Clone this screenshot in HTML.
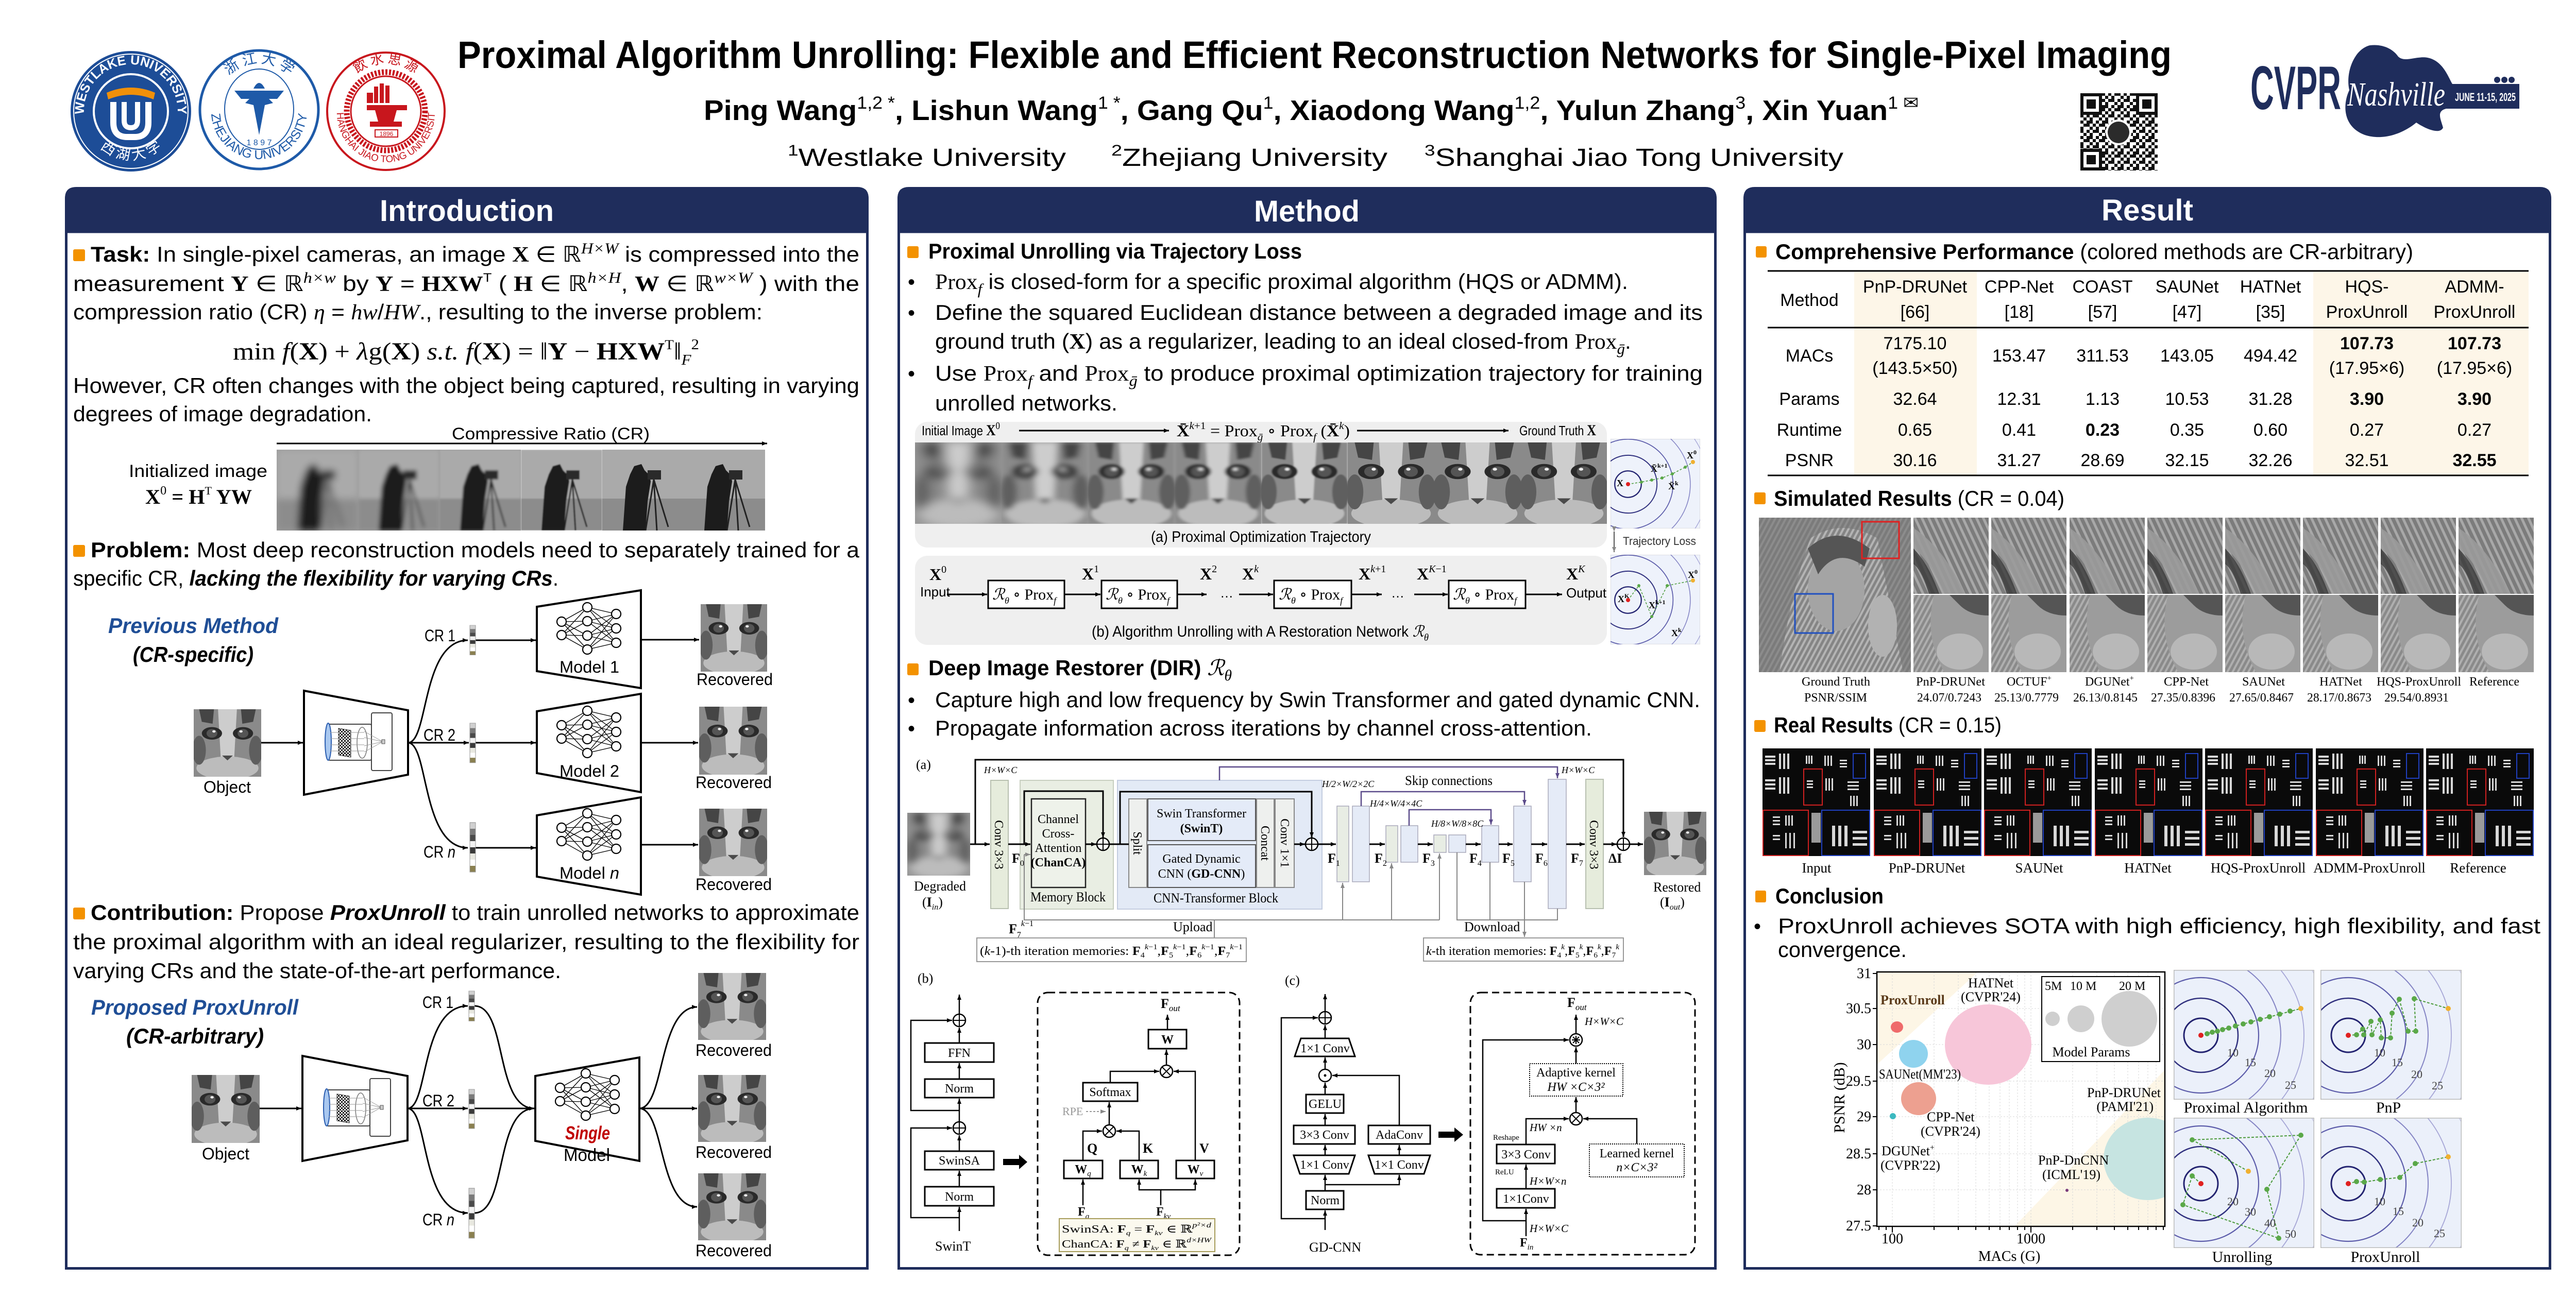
<!DOCTYPE html>
<html><head><meta charset="utf-8">
<style>
html,body{margin:0;padding:0;background:#fff;}
body{width:5074px;height:2550px;overflow:hidden;}
svg text{font-family:"Liberation Sans","DejaVu Sans",sans-serif;}
svg .s, svg .s text, svg .s tspan{font-family:"Liberation Serif","DejaVu Serif",serif;}
svg .cjk{font-family:"Noto Sans CJK SC","WenQuanYi Zen Hei",sans-serif;}
</style></head><body>
<svg width="5074" height="2550" viewBox="0 0 5074 2550" xmlns="http://www.w3.org/2000/svg">
<defs>
<marker id="a" viewBox="0 0 10 10" refX="10" refY="5" markerWidth="16" markerHeight="14" markerUnits="userSpaceOnUse" orient="auto"><path d="M0,1 L10,5 L0,9 z" fill="#000"/></marker>
<marker id="a2" viewBox="0 0 10 10" refX="10" refY="5" markerWidth="11" markerHeight="10" markerUnits="userSpaceOnUse" orient="auto"><path d="M0,1 L10,5 L0,9 z" fill="#000"/></marker>
<marker id="ap" viewBox="0 0 10 10" refX="10" refY="5" markerWidth="11" markerHeight="10" markerUnits="userSpaceOnUse" orient="auto"><path d="M0,1 L10,5 L0,9 z" fill="#5b4b8a"/></marker>
<marker id="ag" viewBox="0 0 10 10" refX="10" refY="5" markerWidth="11" markerHeight="10" markerUnits="userSpaceOnUse" orient="auto"><path d="M0,1 L10,5 L0,9 z" fill="#888"/></marker>
<pattern id="chk" width="6" height="6" patternUnits="userSpaceOnUse"><rect width="6" height="6" fill="#fff"/><rect width="3" height="3" fill="#111"/><rect x="3" y="3" width="3" height="3" fill="#111"/></pattern>
<pattern id="qrp" width="30" height="30" patternUnits="userSpaceOnUse"><rect width="30" height="30" fill="#fff"/><path d="M0,0h6v6h-6zM12,0h6v6h-6zM18,6h6v6h-6zM6,6h6v6h-6zM0,12h6v6h-6zM12,12h12v6h-12zM24,18h6v6h-6zM6,18h6v6h-6zM0,24h12v6h-12zM18,24h6v6h-6zM24,0h6v6h-6z" fill="#111"/></pattern>
<pattern id="strp" width="9" height="9" patternUnits="userSpaceOnUse" patternTransform="rotate(28)"><rect width="9" height="9" fill="#858585"/><rect width="4" height="9" fill="#b4b4b4"/></pattern>
<pattern id="strp2" width="12" height="12" patternUnits="userSpaceOnUse" patternTransform="rotate(-25)"><rect width="12" height="12" fill="#7c7c7c"/><rect width="5" height="12" fill="#a8a8a8"/></pattern>
<filter id="b8" x="0" y="0" width="1" height="1"><feGaussianBlur stdDeviation="7"/></filter>
<filter id="b4" x="0" y="0" width="1" height="1"><feGaussianBlur stdDeviation="4"/></filter>
<filter id="b2" x="0" y="0" width="1" height="1"><feGaussianBlur stdDeviation="2"/></filter>
<filter id="b1" x="0" y="0" width="1" height="1"><feGaussianBlur stdDeviation="1"/></filter>

<g id="cat">
<rect width="100" height="140" fill="#8a8a8a"/>
<path d="M36,0 L64,0 L60,100 L40,100 Z" fill="#cdcdcd"/>
<ellipse cx="50" cy="122" rx="46" ry="24" fill="#bcbcbc"/>
<path d="M8,0 L30,0 L28,30 L12,26Z" fill="#454545"/>
<path d="M70,0 L92,0 L88,26 L72,30Z" fill="#454545"/>
<ellipse cx="8" cy="85" rx="10" ry="30" fill="#5e5e5e"/>
<ellipse cx="92" cy="85" rx="10" ry="30" fill="#5e5e5e"/>
<ellipse cx="27" cy="50" rx="15" ry="13" fill="#2a2a2a"/><ellipse cx="27" cy="50" rx="8" ry="9" fill="#555"/><circle cx="30" cy="46" r="2.5" fill="#eee"/>
<ellipse cx="73" cy="50" rx="15" ry="13" fill="#2a2a2a"/><ellipse cx="73" cy="50" rx="8" ry="9" fill="#555"/><circle cx="70" cy="46" r="2.5" fill="#eee"/>
<path d="M42,96 L58,96 L50,106Z" fill="#4a4a4a"/>
</g>
<g id="cman">
<rect width="158" height="157" fill="#aaaaaa"/>
<rect y="95" width="158" height="62" fill="#8c8c8c"/>
<path d="M40,157 L46,72 L54,48 L62,32 L76,28 L82,40 L92,50 L94,62 L88,100 L84,157 Z" fill="#1c1c1c"/>
<rect x="88" y="40" width="26" height="18" fill="#2a2a2a"/>
<path d="M100,58 L84,157 M100,58 L106,157 M100,58 L128,150" stroke="#222" stroke-width="3"/>
</g>
<g id="nn">
<path d="M-50,-13 L0,-41 M-50,-13 L0,-14 M-50,-13 L0,14 M-50,-13 L0,41 M-50,13 L0,-41 M-50,13 L0,-14 M-50,13 L0,14 M-50,13 L0,41 M0,-41 L56,-28 M0,-41 L56,0 M0,-41 L56,28 M0,-14 L56,-28 M0,-14 L56,0 M0,-14 L56,28 M0,14 L56,-28 M0,14 L56,0 M0,14 L56,28 M0,41 L56,-28 M0,41 L56,0 M0,41 L56,28" stroke="#000" stroke-width="1.3" fill="none"/>
<g fill="#fff" stroke="#000" stroke-width="2.2">
<circle cx="-50" cy="-13" r="9"/><circle cx="-50" cy="13" r="9"/>
<circle cx="0" cy="-41" r="9"/><circle cx="0" cy="-14" r="9"/><circle cx="0" cy="14" r="9"/><circle cx="0" cy="41" r="9"/>
<circle cx="56" cy="-28" r="9"/><circle cx="56" cy="0" r="9"/><circle cx="56" cy="28" r="9"/>
</g>
</g>
<g id="mb">
<rect x="0" y="0" width="11" height="10" fill="#d0d0d0"/><rect x="0" y="10" width="11" height="10" fill="#7a7a7a"/><rect x="0" y="20" width="11" height="10" fill="#4a4a4a"/><rect x="0" y="30" width="11" height="10" fill="#f2f2f2"/><rect x="0" y="40" width="11" height="10" fill="#3a3a3a"/><rect x="0" y="50" width="11" height="10" fill="#e8e8e0"/><rect x="0" y="60" width="11" height="10" fill="#fff"/><rect x="0" y="70" width="11" height="10" fill="#8a8050"/>
<rect x="0" y="0" width="11" height="80" fill="none" stroke="#999" stroke-width="1"/>
</g>
<g id="cam">
<rect x="-40" y="-34" width="84" height="70" fill="#fff" stroke="#444" stroke-width="2" rx="3"/>
<rect x="44" y="-56" width="40" height="112" fill="#fff" stroke="#444" stroke-width="2" rx="3"/>
<ellipse cx="-40" cy="0" rx="6" ry="36" fill="#a9c8f0" stroke="#2a5db0" stroke-width="2"/>
<path d="M-20,-26 L4,-22 L4,30 L-20,26 Z" fill="url(#chk)" stroke="#333" stroke-width="1"/>
<ellipse cx="26" cy="2" rx="10" ry="30" fill="none" stroke="#777" stroke-width="1.5"/>
<path d="M-36,-18 H30 M-36,-6 H30 M-36,6 H30 M-36,18 H30 M30,-20 L66,0 M30,20 L66,0 M30,-8 L66,0 M30,8 L66,0" stroke="#999" stroke-width="1"/>
<rect x="64" y="-4" width="6" height="8" fill="#ccc" stroke="#555"/>
</g>
<g id="ctr" fill="none">
<circle r="250" stroke="#c4c4e4" stroke-width="1.5"/>
<circle r="200" stroke="#a6a6d6" stroke-width="1.8"/>
<circle r="155" stroke="#8484c4" stroke-width="2"/>
<circle r="112" stroke="#5c5caa" stroke-width="2.2"/>
<circle r="72" stroke="#30307e" stroke-width="2.5"/>
<circle r="33" stroke="#232370" stroke-width="3"/>
</g>
<g id="usaf">
<rect width="209" height="209" fill="#0a0a0a"/>
<g fill="#d8d8d8">
<rect x="5" y="14" width="20" height="4"/><rect x="5" y="21" width="20" height="4"/><rect x="5" y="28" width="20" height="4"/>
<rect x="32" y="10" width="4" height="30"/><rect x="40" y="10" width="4" height="30"/><rect x="48" y="10" width="4" height="30"/>
<rect x="84" y="14" width="3" height="16"/><rect x="89" y="14" width="3" height="16"/><rect x="94" y="14" width="3" height="16"/>
<rect x="120" y="14" width="3" height="20"/><rect x="126" y="14" width="3" height="20"/><rect x="132" y="14" width="3" height="20"/>
<rect x="150" y="22" width="14" height="3"/><rect x="150" y="28" width="14" height="3"/><rect x="150" y="34" width="14" height="3"/>
<rect x="5" y="60" width="20" height="4"/><rect x="5" y="68" width="20" height="4"/><rect x="5" y="76" width="20" height="4"/>
<rect x="32" y="56" width="4" height="32"/><rect x="40" y="56" width="4" height="32"/><rect x="48" y="56" width="4" height="32"/>
<rect x="86" y="62" width="12" height="3"/><rect x="86" y="68" width="12" height="3"/><rect x="86" y="74" width="12" height="3"/>
<rect x="122" y="58" width="3" height="24"/><rect x="128" y="58" width="3" height="24"/><rect x="134" y="58" width="3" height="24"/>
<rect x="165" y="64" width="22" height="3"/><rect x="165" y="71" width="22" height="3"/><rect x="165" y="78" width="22" height="3"/>
<rect x="170" y="92" width="3" height="20"/><rect x="176" y="92" width="3" height="20"/><rect x="182" y="92" width="3" height="20"/>
<rect x="20" y="132" width="14" height="3"/><rect x="20" y="139" width="14" height="3"/><rect x="20" y="146" width="14" height="3"/>
<rect x="44" y="130" width="3" height="20"/><rect x="50" y="130" width="3" height="20"/><rect x="56" y="130" width="3" height="20"/>
<rect x="20" y="168" width="14" height="3"/><rect x="20" y="175" width="14" height="3"/><rect x="44" y="164" width="3" height="30"/><rect x="52" y="164" width="3" height="30"/><rect x="60" y="164" width="3" height="30"/>
<rect x="135" y="150" width="6" height="40"/><rect x="147" y="150" width="6" height="40"/><rect x="159" y="150" width="6" height="40"/>
<rect x="175" y="160" width="28" height="5"/><rect x="175" y="172" width="28" height="5"/><rect x="175" y="184" width="28" height="5"/>
</g>
<rect x="95" y="125" width="18" height="58" fill="#9a9a9a"/>
<rect x="80" y="40" width="36" height="70" fill="none" stroke="#d02020" stroke-width="2"/>
<rect x="176" y="10" width="24" height="48" fill="none" stroke="#2040c0" stroke-width="2"/>
<rect x="1" y="120" width="88" height="88" fill="none" stroke="#d02020" stroke-width="2"/>
<rect x="115" y="120" width="93" height="88" fill="none" stroke="#2040c0" stroke-width="2"/>
</g>
<g id="crT">
<rect width="146" height="148" fill="url(#strp2)"/>
<path d="M0,20 Q60,60 100,148 L60,148 Q30,80 0,60Z" fill="#9a9a9a" opacity="0.9"/>
<path d="M0,60 Q30,90 50,148 L30,148 Q15,100 0,90Z" fill="#3a3a3a" opacity="0.8"/>
</g>
<g id="crB">
<rect width="146" height="150" fill="#9c9c9c"/>
<ellipse cx="90" cy="110" rx="45" ry="35" fill="#b8b8b8"/>
<path d="M70,0 L146,0 L146,40 Q110,40 90,20Z" fill="#555"/>
<path d="M0,0 L40,0 Q20,80 60,150 L0,150Z" fill="url(#strp)" opacity="0.8"/>
</g>
</defs>

<!-- ================= HEADER ================= -->
<text x="888" y="132" font-size="74" font-weight="bold" textLength="3327" lengthAdjust="spacingAndGlyphs">Proximal Algorithm Unrolling: Flexible and Efficient Reconstruction Networks for Single-Pixel Imaging</text>
<text x="1366" y="233" font-size="55" font-weight="bold" textLength="2358" lengthAdjust="spacingAndGlyphs">Ping Wang<tspan font-size="34" font-weight="normal" dy="-22">1,2 *</tspan><tspan dy="22">, Lishun Wang</tspan><tspan font-size="34" font-weight="normal" dy="-22">1 *</tspan><tspan dy="22">, Gang Qu</tspan><tspan font-size="34" font-weight="normal" dy="-22">1</tspan><tspan dy="22">, Xiaodong Wang</tspan><tspan font-size="34" font-weight="normal" dy="-22">1,2</tspan><tspan dy="22">, Yulun Zhang</tspan><tspan font-size="34" font-weight="normal" dy="-22">3</tspan><tspan dy="22">, Xin Yuan</tspan><tspan font-size="34" font-weight="normal" dy="-22">1 ✉</tspan></text>
<text x="1529" y="322" font-size="48" textLength="540" lengthAdjust="spacingAndGlyphs"><tspan font-size="30" dy="-20">1</tspan><tspan dy="20">Westlake University</tspan></text>
<text x="2157" y="322" font-size="48" textLength="536" lengthAdjust="spacingAndGlyphs"><tspan font-size="30" dy="-20">2</tspan><tspan dy="20">Zhejiang University</tspan></text>
<text x="2765" y="322" font-size="48" textLength="813" lengthAdjust="spacingAndGlyphs"><tspan font-size="30" dy="-20">3</tspan><tspan dy="20">Shanghai Jiao Tong University</tspan></text>

<!-- Westlake logo -->
<circle cx="254" cy="216" r="117" fill="#1d4d97"/>
<circle cx="254" cy="216" r="111" fill="none" stroke="#fff" stroke-width="2"/>
<circle cx="254" cy="216" r="72" fill="#1d4d97" stroke="#fff" stroke-width="4"/>
<path id="wlp" d="M163,216 A91,91 0 0,1 345,216" fill="none"/>
<text font-size="25" fill="#fff" font-weight="bold"><textPath href="#wlp" startOffset="50%" text-anchor="middle">WESTLAKE UNIVERSITY</textPath></text>
<path id="wlb" d="M166,222 A88,88 0 0,0 342,222" fill="none"/>
<text font-size="28" fill="#fff" class="cjk"><textPath href="#wlb" startOffset="50%" text-anchor="middle">西 湖 大 学</textPath></text>
<path d="M207,180 Q254,160 301,180 L298,193 Q254,175 210,193 Z" fill="#f0900a"/>
<path d="M220,198 V238 Q220,266 247,266 L261,266 Q288,266 288,238 V198" fill="none" stroke="#fff" stroke-width="12"/>
<path d="M241,198 V234 Q241,248 254,248 Q267,248 267,234 V198" fill="none" stroke="#fff" stroke-width="10"/>
<!-- Zhejiang logo -->
<circle cx="503" cy="213" r="115" fill="#fff" stroke="#1e5aa8" stroke-width="5"/>
<ellipse cx="503" cy="212" rx="67" ry="78" fill="none" stroke="#1e5aa8" stroke-width="2"/>
<path d="M455,176 L551,176 L538,192 L522,192 L530,200 L514,204 L503,262 L492,204 L476,200 L484,192 L468,192 Z" fill="#1e5aa8"/>
<path d="M492,172 Q503,150 514,172 Z" fill="#1e5aa8"/>
<path id="zjb" d="M410,216 A93,93 0 0,0 596,216" fill="none"/>
<text font-size="25" fill="#1e5aa8"><textPath href="#zjb" startOffset="50%" text-anchor="middle">ZHEJIANG UNIVERSITY</textPath></text>
<path id="zjt" d="M416,210 A87,87 0 0,1 590,210" fill="none"/>
<text font-size="28" fill="#1e5aa8" class="cjk"><textPath href="#zjt" startOffset="50%" text-anchor="middle">浙 江 大 学</textPath></text>
<text x="503" y="282" font-size="16" fill="#1e5aa8" text-anchor="middle">1 8 9 7</text>
<!-- SJTU logo -->
<circle cx="749" cy="216" r="114" fill="#fff" stroke="#c8161d" stroke-width="4"/>
<circle cx="749" cy="216" r="76" fill="none" stroke="#c8161d" stroke-width="11" stroke-dasharray="4 3"/>
<circle cx="749" cy="216" r="68" fill="none" stroke="#c8161d" stroke-width="3"/>
<g fill="#c8161d">
<rect x="726" y="168" width="8" height="32"/><rect x="737" y="162" width="8" height="38"/><rect x="748" y="166" width="8" height="34"/><rect x="712" y="180" width="12" height="20"/>
<path d="M712,204 H790 V214 H770 L764,236 H780 V246 H718 V236 H734 L728,214 H712 Z"/>
<rect x="728" y="252" width="44" height="14" fill="none" stroke="#c8161d" stroke-width="2"/>
</g>
<text x="750" y="264" font-size="12" fill="#c8161d" text-anchor="middle">1896</text>
<path id="sjb" d="M654,220 A95,95 0 0,0 844,220" fill="none"/>
<text font-size="19" fill="#c8161d"><textPath href="#sjb" startOffset="50%" text-anchor="middle">SHANGHAI JIAO TONG UNIVERSITY</textPath></text>
<path id="sjt" d="M660,212 A89,89 0 0,1 838,212" fill="none"/>
<text font-size="26" fill="#c8161d" class="cjk"><textPath href="#sjt" startOffset="50%" text-anchor="middle">飲 水 思 源</textPath></text>

<!-- QR -->
<rect x="4038" y="181" width="150" height="150" fill="url(#qrp)"/>
<g fill="#111"><rect x="4038" y="181" width="42" height="42"/><rect x="4146" y="181" width="42" height="42"/><rect x="4038" y="289" width="42" height="42"/></g>
<g fill="#fff"><rect x="4044" y="187" width="30" height="30"/><rect x="4152" y="187" width="30" height="30"/><rect x="4044" y="295" width="30" height="30"/></g>
<g fill="#111"><rect x="4050" y="193" width="18" height="18"/><rect x="4158" y="193" width="18" height="18"/><rect x="4050" y="301" width="18" height="18"/></g>
<circle cx="4112" cy="257" r="25" fill="#fff"/><circle cx="4112" cy="257" r="21" fill="#2b2b2b"/>

<!-- CVPR -->
<text x="4368" y="212" font-size="120" font-weight="bold" fill="#1f2d5c" textLength="176" lengthAdjust="spacingAndGlyphs">CVPR</text>
<path d="M4600,88 C4570,95 4552,140 4560,175 C4548,200 4545,245 4590,262 C4630,275 4670,255 4690,238 C4708,250 4735,262 4742,248 C4738,232 4728,216 4748,211 L4890,211 L4890,163 L4760,163 C4752,150 4742,118 4712,112 C4690,108 4668,122 4655,110 C4645,95 4625,85 4600,88 Z" fill="#1f2d5c"/>
<circle cx="4847" cy="155" r="6" fill="#1f2d5c"/><circle cx="4861" cy="155" r="6" fill="#1f2d5c"/><circle cx="4875" cy="155" r="6" fill="#1f2d5c"/>
<text x="4556" y="205" font-size="66" font-style="italic" fill="#fff" class="s" textLength="190" lengthAdjust="spacingAndGlyphs">Nashville</text>
<text x="4765" y="196" font-size="22" font-weight="bold" fill="#fff" textLength="118" lengthAdjust="spacingAndGlyphs">JUNE 11-15, 2025</text>

<!-- ================= PANELS ================= -->
<path d="M126,450 V385 Q126,363 148,363 H1664 Q1686,363 1686,385 V450 Z" fill="#1f2d5c"/>
<rect x="128.5" y="450" width="1555" height="2012.5" fill="none" stroke="#1f2d5c" stroke-width="5"/>
<text x="737" y="429" font-size="58" font-weight="bold" fill="#fff" textLength="338" lengthAdjust="spacingAndGlyphs">Introduction</text>

<path d="M1742,450 V385 Q1742,363 1764,363 H3310 Q3332,363 3332,385 V450 Z" fill="#1f2d5c"/>
<rect x="1744.5" y="450" width="1585" height="2012.5" fill="none" stroke="#1f2d5c" stroke-width="5"/>
<text x="2434" y="430" font-size="58" font-weight="bold" fill="#fff" textLength="205" lengthAdjust="spacingAndGlyphs">Method</text>

<path d="M3384,450 V385 Q3384,363 3406,363 H4930 Q4952,363 4952,385 V450 Z" fill="#1f2d5c"/>
<rect x="3386.5" y="450" width="1563" height="2012.5" fill="none" stroke="#1f2d5c" stroke-width="5"/>
<text x="4079" y="428" font-size="58" font-weight="bold" fill="#fff" textLength="178" lengthAdjust="spacingAndGlyphs">Result</text>

<!-- ================= INTRO ================= -->
<rect x="142" y="484" width="23" height="23" rx="3" fill="#f39200"/>
<text x="176" y="508" font-size="42" textLength="1492" lengthAdjust="spacingAndGlyphs"><tspan font-weight="bold">Task:</tspan> In single-pixel cameras, an image <tspan class="s" font-weight="bold">X</tspan> ∈ ℝ<tspan class="s" font-style="italic" font-size="30" dy="-16">H×W</tspan><tspan dy="16"> is compressed into the</tspan></text>
<text x="142" y="565" font-size="42" textLength="1526" lengthAdjust="spacingAndGlyphs">measurement  <tspan class="s" font-weight="bold">Y</tspan> ∈ ℝ<tspan class="s" font-style="italic" font-size="30" dy="-16">h×w</tspan><tspan dy="16">  by  </tspan><tspan class="s" font-weight="bold">Y</tspan> = <tspan class="s" font-weight="bold">HXW</tspan><tspan font-size="24" dy="-18">T</tspan><tspan dy="18">  ( </tspan><tspan class="s" font-weight="bold">H</tspan> ∈ ℝ<tspan class="s" font-style="italic" font-size="30" dy="-16">h×H</tspan><tspan dy="16">, </tspan><tspan class="s" font-weight="bold">W</tspan> ∈ ℝ<tspan class="s" font-style="italic" font-size="30" dy="-16">w×W</tspan><tspan dy="16"> )  with  the</tspan></text>
<text x="142" y="620" font-size="42" textLength="1338" lengthAdjust="spacingAndGlyphs">compression ratio (CR) <tspan class="s" font-style="italic">η</tspan> = <tspan class="s" font-style="italic">hw</tspan>/<tspan class="s" font-style="italic">HW</tspan>., resulting to the inverse problem:</text>
<text x="452" y="698" font-size="48" class="s" textLength="905" lengthAdjust="spacingAndGlyphs">min <tspan font-style="italic">f</tspan>(<tspan font-weight="bold">X</tspan>) + <tspan font-style="italic">λ</tspan>g(<tspan font-weight="bold">X</tspan>)   <tspan font-style="italic">s.t. f</tspan>(<tspan font-weight="bold">X</tspan>) = ‖<tspan font-weight="bold">Y</tspan> − <tspan font-weight="bold">HXW</tspan><tspan font-size="26" dy="-20">T</tspan><tspan dy="20">‖</tspan><tspan font-size="28" font-style="italic" dy="10">F</tspan><tspan font-size="28" dy="-30">2</tspan></text>
<text x="142" y="763" font-size="42" textLength="1526" lengthAdjust="spacingAndGlyphs">However, CR often changes with the object being captured, resulting in varying</text>
<text x="142" y="818" font-size="42" textLength="580" lengthAdjust="spacingAndGlyphs">degrees of image degradation.</text>

<text x="877" y="853" font-size="32" textLength="384" lengthAdjust="spacingAndGlyphs">Compressive Ratio (CR)</text>
<line x1="537" y1="861" x2="1489" y2="861" stroke="#000" stroke-width="3" marker-end="url(#a2)"/>
<text x="250" y="926" font-size="34" textLength="269" lengthAdjust="spacingAndGlyphs">Initialized image</text>
<text x="282" y="978" font-size="40" class="s" font-weight="bold" textLength="207" lengthAdjust="spacingAndGlyphs">X<tspan font-size="24" font-weight="normal" dy="-18">0</tspan><tspan dy="18"> = H</tspan><tspan font-size="22" font-weight="normal" dy="-18">T</tspan><tspan dy="18"> YW</tspan></text>
<svg x="537" y="873" width="158" height="157"><rect width="158" height="157" fill="#9a9a9a"/><use href="#cman" filter="url(#b8)"/></svg>
<svg x="695" y="873" width="158" height="157"><rect width="158" height="157" fill="#9a9a9a"/><use href="#cman" filter="url(#b4)"/></svg>
<svg x="853" y="873" width="158" height="157"><rect width="158" height="157" fill="#9a9a9a"/><use href="#cman" filter="url(#b2)"/></svg>
<svg x="1011" y="873" width="158" height="157"><use href="#cman" filter="url(#b1)"/></svg>
<svg x="1169" y="873" width="158" height="157"><use href="#cman"/></svg>
<svg x="1327" y="873" width="160" height="157"><use href="#cman"/></svg>

<rect x="142" y="1058" width="23" height="23" rx="3" fill="#f39200"/>
<text x="176" y="1082" font-size="42" textLength="1492" lengthAdjust="spacingAndGlyphs"><tspan font-weight="bold">Problem:</tspan>  Most deep reconstruction models need to separately trained for a</text>
<text x="142" y="1137" font-size="42" textLength="942" lengthAdjust="spacingAndGlyphs">specific CR, <tspan font-weight="bold" font-style="italic">lacking the flexibility for varying CRs</tspan>.</text>

<!-- previous method diagram -->
<text x="210" y="1229" font-size="42" font-weight="bold" font-style="italic" fill="#1f4e96" textLength="330" lengthAdjust="spacingAndGlyphs">Previous Method</text>
<text x="258" y="1285" font-size="42" font-weight="bold" font-style="italic" textLength="234" lengthAdjust="spacingAndGlyphs">(CR-specific)</text>
<svg x="376" y="1377" width="131" height="131"><use href="#cat" transform="scale(1.31,0.936)"/></svg>
<text x="395" y="1539" font-size="32" textLength="92" lengthAdjust="spacingAndGlyphs">Object</text>
<line x1="507" y1="1442" x2="588" y2="1442" stroke="#000" stroke-width="3" marker-end="url(#a2)"/>
<polygon points="590,1341 792,1379 792,1504 590,1543" fill="#fff" stroke="#000" stroke-width="4"/>
<use href="#cam" x="677" y="1440"/>
<g fill="none" stroke="#000" stroke-width="3">
<path d="M792,1442 C832,1442 818,1243 908,1243" marker-end="url(#a2)"/>
<path d="M792,1442 H910" marker-end="url(#a2)"/>
<path d="M792,1442 C832,1442 818,1646 908,1646" marker-end="url(#a2)"/>
<path d="M923,1243 H1040" marker-end="url(#a2)"/>
<path d="M923,1442 H1040" marker-end="url(#a2)"/>
<path d="M923,1646 H1040" marker-end="url(#a2)"/>
<path d="M1244,1242 H1357" marker-end="url(#a2)"/>
<path d="M1244,1442 H1355" marker-end="url(#a2)"/>
<path d="M1244,1640 H1355" marker-end="url(#a2)"/>
</g>
<use href="#mb" transform="translate(912,1214) scale(1,0.72)"/>
<use href="#mb" transform="translate(912,1404) scale(1,0.96)"/>
<use href="#mb" transform="translate(912,1597) scale(1,1.2)"/>
<text x="824" y="1245" font-size="32" textLength="60" lengthAdjust="spacingAndGlyphs">CR 1</text>
<text x="822" y="1438" font-size="32" textLength="62" lengthAdjust="spacingAndGlyphs">CR 2</text>
<text x="822" y="1665" font-size="32" textLength="62" lengthAdjust="spacingAndGlyphs">CR <tspan font-style="italic">n</tspan></text>
<polygon points="1042,1178 1244,1146 1244,1336 1042,1303" fill="#fff" stroke="#000" stroke-width="4"/>
<polygon points="1042,1381 1244,1347 1244,1538 1042,1501" fill="#fff" stroke="#000" stroke-width="4"/>
<polygon points="1042,1583 1244,1548 1244,1737 1042,1702" fill="#fff" stroke="#000" stroke-width="4"/>
<use href="#nn" x="1140" y="1220"/>
<use href="#nn" x="1140" y="1421"/>
<use href="#nn" x="1140" y="1620"/>
<text x="1086" y="1306" font-size="32" textLength="116" lengthAdjust="spacingAndGlyphs">Model 1</text>
<text x="1086" y="1508" font-size="32" textLength="116" lengthAdjust="spacingAndGlyphs">Model 2</text>
<text x="1086" y="1706" font-size="32" textLength="116" lengthAdjust="spacingAndGlyphs">Model <tspan font-style="italic">n</tspan></text>
<svg x="1360" y="1173" width="129" height="131"><use href="#cat" transform="scale(1.29,0.936)"/></svg>
<svg x="1357" y="1372" width="132" height="132"><use href="#cat" transform="scale(1.32,0.943)"/></svg>
<svg x="1357" y="1570" width="132" height="131"><use href="#cat" transform="scale(1.32,0.936)"/></svg>
<text x="1352" y="1330" font-size="32" textLength="148" lengthAdjust="spacingAndGlyphs">Recovered</text>
<text x="1350" y="1530" font-size="32" textLength="148" lengthAdjust="spacingAndGlyphs">Recovered</text>
<text x="1350" y="1728" font-size="32" textLength="148" lengthAdjust="spacingAndGlyphs">Recovered</text>

<rect x="142" y="1762" width="23" height="23" rx="3" fill="#f39200"/>
<text x="176" y="1786" font-size="42" textLength="1492" lengthAdjust="spacingAndGlyphs"><tspan font-weight="bold">Contribution:</tspan>  Propose <tspan font-weight="bold" font-style="italic">ProxUnroll</tspan> to train unrolled networks to approximate</text>
<text x="142" y="1843" font-size="42" textLength="1526" lengthAdjust="spacingAndGlyphs">the proximal algorithm with an ideal regularizer, resulting to the flexibility for</text>
<text x="142" y="1899" font-size="42" textLength="947" lengthAdjust="spacingAndGlyphs">varying CRs and the state-of-the-art performance.</text>

<!-- proposed diagram -->
<text x="177" y="1970" font-size="42" font-weight="bold" font-style="italic" fill="#1f4e96" textLength="402" lengthAdjust="spacingAndGlyphs">Proposed ProxUnroll</text>
<text x="245" y="2026" font-size="42" font-weight="bold" font-style="italic" textLength="267" lengthAdjust="spacingAndGlyphs">(CR-arbitrary)</text>
<svg x="372" y="2087" width="132" height="132"><use href="#cat" transform="scale(1.32,0.943)"/></svg>
<text x="392" y="2251" font-size="32" textLength="92" lengthAdjust="spacingAndGlyphs">Object</text>
<line x1="504" y1="2152" x2="585" y2="2152" stroke="#000" stroke-width="3" marker-end="url(#a2)"/>
<polygon points="587,2050 791,2089 791,2214 587,2254" fill="#fff" stroke="#000" stroke-width="4"/>
<use href="#cam" x="674" y="2150"/>
<g fill="none" stroke="#000" stroke-width="3">
<path d="M791,2152 C832,2152 816,1953 908,1953" marker-end="url(#a2)"/>
<path d="M791,2152 H908" marker-end="url(#a2)"/>
<path d="M791,2152 C832,2152 816,2355 908,2355" marker-end="url(#a2)"/>
<path d="M921,1953 C985,1953 960,2152 1037,2152" marker-end="url(#a2)"/>
<path d="M921,2152 H1037" marker-end="url(#a2)"/>
<path d="M921,2355 C985,2355 960,2152 1037,2152" marker-end="url(#a2)"/>
<path d="M1241,2152 C1290,2152 1278,1955 1353,1955" marker-end="url(#a2)"/>
<path d="M1241,2152 H1353" marker-end="url(#a2)"/>
<path d="M1241,2152 C1290,2152 1278,2343 1353,2343" marker-end="url(#a2)"/>
</g>
<use href="#mb" transform="translate(910,1924) scale(1,0.73)"/>
<use href="#mb" transform="translate(910,2115) scale(1,0.95)"/>
<use href="#mb" transform="translate(910,2307) scale(1,1.21)"/>
<text x="820" y="1957" font-size="32" textLength="60" lengthAdjust="spacingAndGlyphs">CR 1</text>
<text x="820" y="2148" font-size="32" textLength="62" lengthAdjust="spacingAndGlyphs">CR 2</text>
<text x="820" y="2379" font-size="32" textLength="62" lengthAdjust="spacingAndGlyphs">CR <tspan font-style="italic">n</tspan></text>
<polygon points="1039,2089 1241,2053 1241,2254 1039,2215" fill="#fff" stroke="#000" stroke-width="4"/>
<use href="#nn" x="1137" y="2125"/>
<text x="1097" y="2212" font-size="36" font-weight="bold" font-style="italic" fill="#c00000" textLength="87" lengthAdjust="spacingAndGlyphs">Single</text>
<text x="1094" y="2254" font-size="34" textLength="90" lengthAdjust="spacingAndGlyphs">Model</text>
<svg x="1355" y="1889" width="132" height="130"><use href="#cat" transform="scale(1.32,0.93)"/></svg>
<svg x="1355" y="2087" width="132" height="130"><use href="#cat" transform="scale(1.32,0.93)"/></svg>
<svg x="1355" y="2278" width="132" height="130"><use href="#cat" transform="scale(1.32,0.93)"/></svg>
<text x="1350" y="2050" font-size="32" textLength="148" lengthAdjust="spacingAndGlyphs">Recovered</text>
<text x="1350" y="2248" font-size="32" textLength="148" lengthAdjust="spacingAndGlyphs">Recovered</text>
<text x="1350" y="2439" font-size="32" textLength="148" lengthAdjust="spacingAndGlyphs">Recovered</text>

<!-- ================= METHOD ================= -->
<rect x="1761" y="478" width="22" height="23" rx="3" fill="#f39200"/>
<text x="1802" y="502" font-size="42" font-weight="bold" textLength="725" lengthAdjust="spacingAndGlyphs">Proximal Unrolling via Trajectory Loss</text>
<text x="1762" y="561" font-size="40">•</text>
<text x="1815" y="561" font-size="42" textLength="1345" lengthAdjust="spacingAndGlyphs"><tspan class="s">Prox</tspan><tspan class="s" font-style="italic" font-size="30" dy="10">f</tspan><tspan dy="-10"> is closed-form for a specific proximal algorithm (HQS or ADMM).</tspan></text>
<text x="1762" y="621" font-size="40">•</text>
<text x="1815" y="621" font-size="42" textLength="1490" lengthAdjust="spacingAndGlyphs">Define the squared Euclidean distance between a degraded image and its</text>
<text x="1815" y="677" font-size="42" textLength="1351" lengthAdjust="spacingAndGlyphs">ground truth (<tspan class="s" font-weight="bold">X</tspan>) as a regularizer, leading to an ideal closed-from <tspan class="s">Prox</tspan><tspan class="s" font-style="italic" font-size="30" dy="10">ḡ</tspan><tspan dy="-10">.</tspan></text>
<text x="1762" y="739" font-size="40">•</text>
<text x="1815" y="739" font-size="42" textLength="1490" lengthAdjust="spacingAndGlyphs">Use <tspan class="s">Prox</tspan><tspan class="s" font-style="italic" font-size="30" dy="10">f</tspan><tspan dy="-10"> and </tspan><tspan class="s">Prox</tspan><tspan class="s" font-style="italic" font-size="30" dy="10">ḡ</tspan><tspan dy="-10"> to produce proximal optimization trajectory for training</tspan></text>
<text x="1815" y="797" font-size="42" textLength="354" lengthAdjust="spacingAndGlyphs">unrolled networks.</text>

<!-- (a) trajectory -->
<rect x="1776" y="819" width="1343" height="244" rx="24" fill="#efefef"/>
<text x="1789" y="845" font-size="26" textLength="152" lengthAdjust="spacingAndGlyphs">Initial Image <tspan class="s" font-weight="bold" font-size="30">X</tspan><tspan class="s" font-size="20" dy="-12">0</tspan></text>
<line x1="1978" y1="836" x2="2269" y2="836" stroke="#000" stroke-width="3" marker-end="url(#a2)"/>
<text x="2284" y="847" font-size="32" class="s" textLength="336" lengthAdjust="spacingAndGlyphs"><tspan font-weight="bold">X̄</tspan><tspan font-size="20" font-style="italic" dy="-14">k</tspan><tspan font-size="20" dy="0">+1</tspan><tspan dy="14"> = Prox</tspan><tspan font-size="20" font-style="italic" dy="8">ḡ</tspan><tspan dy="-8"> ∘ Prox</tspan><tspan font-size="20" font-style="italic" dy="8">f</tspan><tspan dy="-8"> (</tspan><tspan font-weight="bold">X̄</tspan><tspan font-size="20" font-style="italic" dy="-14">k</tspan><tspan dy="14">)</tspan></text>
<line x1="2634" y1="836" x2="2928" y2="836" stroke="#000" stroke-width="3" marker-end="url(#a2)"/>
<text x="2949" y="845" font-size="26" textLength="149" lengthAdjust="spacingAndGlyphs">Ground Truth <tspan class="s" font-weight="bold" font-size="30">X</tspan></text>
<svg x="1776" y="859" width="168" height="158"><rect width="168" height="158" fill="#9a9a9a"/><use href="#cat" transform="scale(1.68,1.13)" filter="url(#b8)"/></svg>
<svg x="1944" y="859" width="168" height="158"><rect width="168" height="158" fill="#9a9a9a"/><use href="#cat" transform="scale(1.68,1.13)" filter="url(#b4)"/></svg>
<svg x="2112" y="859" width="168" height="158"><rect width="168" height="158" fill="#9a9a9a"/><use href="#cat" transform="scale(1.68,1.13)" filter="url(#b2)"/></svg>
<svg x="2280" y="859" width="168" height="158"><rect width="168" height="158" fill="#9a9a9a"/><use href="#cat" transform="scale(1.68,1.13)" filter="url(#b2)"/></svg>
<svg x="2448" y="859" width="168" height="158"><use href="#cat" transform="scale(1.68,1.13)" filter="url(#b1)"/></svg>
<svg x="2616" y="859" width="168" height="158"><use href="#cat" transform="scale(1.68,1.13)"/></svg>
<svg x="2784" y="859" width="168" height="158"><use href="#cat" transform="scale(1.68,1.13)"/></svg>
<svg x="2952" y="859" width="167" height="158"><use href="#cat" transform="scale(1.67,1.13)"/></svg>
<text x="2234" y="1052" font-size="30" textLength="427" lengthAdjust="spacingAndGlyphs">(a) Proximal Optimization Trajectory</text>

<svg x="3126" y="852" width="174" height="174"><rect width="174" height="174" fill="#eef2fb" stroke="#ccc"/><use href="#ctr" transform="translate(34,88) scale(0.78)"/>
<path d="M34,88 L60,84 L80,80 L100,76 L120,68 L145,55 L160,45" stroke="#4a9a3a" stroke-width="1.5" stroke-dasharray="4 3" fill="none"/>
<g fill="#5aa848"><circle cx="60" cy="84" r="3"/><circle cx="80" cy="80" r="3"/><circle cx="100" cy="76" r="3"/><circle cx="120" cy="68" r="3"/><circle cx="145" cy="55" r="3"/></g>
<circle cx="160" cy="45" r="4" fill="#f0b030"/><circle cx="34" cy="88" r="4" fill="#e02020"/>
<text x="148" y="38" font-size="18" class="s" font-weight="bold">X<tspan font-size="12" dy="-8">0</tspan></text>
<text x="78" y="64" font-size="18" class="s" font-weight="bold">X̄<tspan font-size="12" dy="-8">k+1</tspan></text>
<text x="112" y="98" font-size="18" class="s" font-weight="bold">X̄<tspan font-size="12" dy="-8">k</tspan></text>
<text x="12" y="92" font-size="18" class="s" font-weight="bold">X</text>
</svg>
<line x1="3133" y1="1032" x2="3133" y2="1072" stroke="#555" stroke-width="2" marker-end="url(#ag)" marker-start="url(#ag)"/>
<text x="3150" y="1058" font-size="22" fill="#333" textLength="142" lengthAdjust="spacingAndGlyphs">Trajectory Loss</text>
<svg x="3126" y="1077" width="174" height="174"><rect width="174" height="174" fill="#eef2fb" stroke="#ccc"/><use href="#ctr" transform="translate(34,88) scale(0.78)"/>
<path d="M34,88 L55,60 L80,120 L110,60 L160,50" stroke="#4a9a3a" stroke-width="1.5" stroke-dasharray="4 3" fill="none"/>
<g fill="#5aa848"><circle cx="55" cy="60" r="3"/><circle cx="80" cy="120" r="3"/><circle cx="110" cy="60" r="3"/></g>
<circle cx="160" cy="50" r="4" fill="#f0b030"/><circle cx="34" cy="88" r="4" fill="#e02020"/>
<text x="150" y="45" font-size="18" class="s" font-weight="bold">X<tspan font-size="12" dy="-8">0</tspan></text>
<text x="74" y="104" font-size="18" class="s" font-weight="bold">X<tspan font-size="12" dy="-8">k+1</tspan></text>
<text x="118" y="158" font-size="18" class="s" font-weight="bold">X<tspan font-size="12" dy="-8">k</tspan></text>
<text x="14" y="92" font-size="18" class="s" font-weight="bold">X<tspan font-size="12" dy="-8">K</tspan></text>
</svg>

<!-- (b) unrolling -->
<rect x="1776" y="1079" width="1343" height="173" rx="24" fill="#efefef"/>
<g class="s" font-weight="bold" font-size="32">
<text x="1804" y="1126">X<tspan font-size="20" font-weight="normal" dy="-14">0</tspan></text>
<text x="2100" y="1125">X<tspan font-size="20" font-weight="normal" dy="-14">1</tspan></text>
<text x="2329" y="1125">X<tspan font-size="20" font-weight="normal" dy="-14">2</tspan></text>
<text x="2411" y="1125">X<tspan font-size="20" font-weight="normal" font-style="italic" dy="-14">k</tspan></text>
<text x="2637" y="1125">X<tspan font-size="20" font-weight="normal" font-style="italic" dy="-14">k</tspan><tspan font-size="20" font-weight="normal">+1</tspan></text>
<text x="2750" y="1125">X<tspan font-size="20" font-weight="normal" font-style="italic" dy="-14">K</tspan><tspan font-size="20" font-weight="normal">−1</tspan></text>
<text x="3040" y="1125">X<tspan font-size="20" font-weight="normal" font-style="italic" dy="-14">K</tspan></text>
</g>
<text x="1786" y="1158" font-size="26">Input</text>
<text x="3040" y="1160" font-size="26">Output</text>
<g fill="#fff" stroke="#000" stroke-width="3">
<rect x="1918" y="1127" width="148" height="54"/><rect x="2138" y="1127" width="147" height="54"/><rect x="2473" y="1127" width="150" height="54"/><rect x="2812" y="1127" width="149" height="54"/>
</g>
<g class="s" font-size="30">
<text x="1926" y="1164"><tspan font-style="italic">ℛ</tspan><tspan font-size="18" font-style="italic" dy="8">θ</tspan><tspan dy="-8"> ∘ Prox</tspan><tspan font-size="18" font-style="italic" dy="8">f</tspan></text>
<text x="2146" y="1164"><tspan font-style="italic">ℛ</tspan><tspan font-size="18" font-style="italic" dy="8">θ</tspan><tspan dy="-8"> ∘ Prox</tspan><tspan font-size="18" font-style="italic" dy="8">f</tspan></text>
<text x="2482" y="1164"><tspan font-style="italic">ℛ</tspan><tspan font-size="18" font-style="italic" dy="8">θ</tspan><tspan dy="-8"> ∘ Prox</tspan><tspan font-size="18" font-style="italic" dy="8">f</tspan></text>
<text x="2820" y="1164"><tspan font-style="italic">ℛ</tspan><tspan font-size="18" font-style="italic" dy="8">θ</tspan><tspan dy="-8"> ∘ Prox</tspan><tspan font-size="18" font-style="italic" dy="8">f</tspan></text>
</g>
<g stroke="#000" stroke-width="3" fill="none">
<path d="M1838,1154 H1916" marker-end="url(#a2)"/><path d="M2066,1154 H2136" marker-end="url(#a2)"/><path d="M2285,1154 H2342" marker-end="url(#a2)"/><path d="M2405,1154 H2471" marker-end="url(#a2)"/><path d="M2623,1154 H2682" marker-end="url(#a2)"/><path d="M2745,1154 H2810" marker-end="url(#a2)"/><path d="M2961,1154 H3032" marker-end="url(#a2)"/>
</g>
<text x="2368" y="1160" font-size="26">…</text><text x="2700" y="1160" font-size="26">…</text>
<text x="2119" y="1236" font-size="30" textLength="654" lengthAdjust="spacingAndGlyphs">(b) Algorithm Unrolling with A Restoration Network <tspan class="s" font-style="italic">ℛ</tspan><tspan class="s" font-style="italic" font-size="20" dy="8">θ</tspan></text>

<!-- DIR -->
<rect x="1761" y="1288" width="22" height="23" rx="3" fill="#f39200"/>
<text x="1802" y="1311" font-size="42" textLength="589" lengthAdjust="spacingAndGlyphs"><tspan font-weight="bold">Deep Image Restorer (DIR) </tspan><tspan class="s" font-style="italic">ℛ</tspan><tspan class="s" font-style="italic" font-size="30" dy="10">θ</tspan></text>
<text x="1762" y="1373" font-size="40">•</text>
<text x="1815" y="1373" font-size="42" textLength="1485" lengthAdjust="spacingAndGlyphs">Capture high and low frequency by Swin Transformer and gated dynamic CNN.</text>
<text x="1762" y="1428" font-size="40">•</text>
<text x="1815" y="1428" font-size="42" textLength="1275" lengthAdjust="spacingAndGlyphs">Propagate information across iterations by channel cross-attention.</text>

<!-- DIR figure -->
<text x="1778" y="1493" font-size="26" class="s">(a)</text>
<rect x="1980" y="1515" width="181" height="250" fill="#e9eee3" stroke="#c8cfc0" stroke-width="2"/>
<rect x="2169" y="1515" width="397" height="250" fill="#e3eaf6" stroke="#c4cde0" stroke-width="2"/>
<rect x="1923" y="1515" width="34" height="249" fill="#e6ecdc" stroke="#b8c0b0" stroke-width="2"/>
<rect x="3078" y="1513" width="34" height="251" fill="#e6ecdc" stroke="#b8c0b0" stroke-width="2"/>
<rect x="2002" y="1551" width="105" height="172" fill="#eef2ea" stroke="#222" stroke-width="2.5"/>
<rect x="2191" y="1551" width="35" height="172" fill="#eef0ee" stroke="#888" stroke-width="2"/>
<rect x="2228" y="1551" width="209" height="81" fill="#e4ebf8" stroke="#555" stroke-width="2"/>
<rect x="2228" y="1640" width="209" height="83" fill="#e4ebf8" stroke="#555" stroke-width="2"/>
<rect x="2439" y="1551" width="34" height="172" fill="#eef0ee" stroke="#888" stroke-width="2"/>
<rect x="2475" y="1551" width="37" height="172" fill="#eef0ee" stroke="#888" stroke-width="2"/>
<g stroke="#aab" stroke-width="1.5">
<rect x="2595" y="1565" width="23" height="147" fill="#e8ede4"/><rect x="2625" y="1565" width="33" height="147" fill="#e5ebf7"/>
<rect x="2690" y="1603" width="23" height="71" fill="#e8ede4"/><rect x="2719" y="1603" width="33" height="71" fill="#e5ebf7"/>
<rect x="2783" y="1621" width="24" height="34" fill="#e8ede4"/><rect x="2812" y="1621" width="33" height="34" fill="#e5ebf7"/>
<rect x="2876" y="1603" width="33" height="71" fill="#e5ebf7"/>
<rect x="2938" y="1565" width="34" height="147" fill="#e5ebf7"/>
<rect x="3005" y="1513" width="35" height="251" fill="#e5ebf7"/>
</g>
<svg x="1761" y="1578" width="122" height="122"><rect width="122" height="122" fill="#999"/><use href="#cat" transform="scale(1.22,0.87)" filter="url(#b8)"/></svg>
<svg x="3191" y="1576" width="121" height="123"><use href="#cat" transform="scale(1.21,0.88)"/></svg>
<g class="s" font-size="26">
<text x="1774" y="1729">Degraded</text><text x="1790" y="1760">(<tspan font-weight="bold">I</tspan><tspan font-size="16" font-style="italic" dy="6">in</tspan><tspan dy="-6">)</tspan></text>
<text x="3209" y="1731">Restored</text><text x="3222" y="1760">(<tspan font-weight="bold">I</tspan><tspan font-size="16" font-style="italic" dy="6">out</tspan><tspan dy="-6">)</tspan></text>
<text x="2000" y="1750" textLength="146" lengthAdjust="spacingAndGlyphs">Memory Block</text>
<text x="2239" y="1752" textLength="242" lengthAdjust="spacingAndGlyphs">CNN-Transformer Block</text>
<text x="2054" y="1598" font-size="24" text-anchor="middle">Channel</text>
<text x="2054" y="1626" font-size="24" text-anchor="middle">Cross-</text>
<text x="2054" y="1654" font-size="24" text-anchor="middle">Attention</text>
<text x="2054" y="1682" font-size="24" text-anchor="middle" font-weight="bold">(ChanCA)</text>
<text x="2332" y="1587" font-size="24" text-anchor="middle">Swin Transformer</text>
<text x="2332" y="1616" font-size="24" text-anchor="middle" font-weight="bold">(SwinT)</text>
<text x="2332" y="1675" font-size="24" text-anchor="middle">Gated Dynamic</text>
<text x="2332" y="1704" font-size="24" text-anchor="middle">CNN (<tspan font-weight="bold">GD-CNN</tspan>)</text>
<text transform="translate(1931,1640) rotate(90)" font-size="24" text-anchor="middle">Conv 3×3</text>
<text transform="translate(3086,1640) rotate(90)" font-size="24" text-anchor="middle">Conv 3×3</text>
<text transform="translate(2200,1637) rotate(90)" font-size="24" text-anchor="middle">Split</text>
<text transform="translate(2448,1637) rotate(90)" font-size="24" text-anchor="middle">Concat</text>
<text transform="translate(2486,1637) rotate(90)" font-size="24" text-anchor="middle">Conv 1×1</text>
<text x="2727" y="1524" textLength="170" lengthAdjust="spacingAndGlyphs">Skip connections</text>
<text x="2277" y="1808">Upload</text>
<text x="2842" y="1808">Download</text>
</g>
<g class="s" font-size="18" font-style="italic">
<text x="1910" y="1501">H×W×C</text>
<text x="3031" y="1501">H×W×C</text>
<text x="2566" y="1528">H/2×W/2×2C</text>
<text x="2659" y="1566">H/4×W/4×4C</text>
<text x="2778" y="1605">H/8×W/8×8C</text>
</g>
<g class="s" font-size="26" font-weight="bold">
<text x="1964" y="1675">F<tspan font-size="16" font-weight="normal" dy="6">0</tspan></text>
<text x="2577" y="1675">F<tspan font-size="16" font-weight="normal" dy="6">1</tspan></text>
<text x="2668" y="1675">F<tspan font-size="16" font-weight="normal" dy="6">2</tspan></text>
<text x="2761" y="1675">F<tspan font-size="16" font-weight="normal" dy="6">3</tspan></text>
<text x="2852" y="1675">F<tspan font-size="16" font-weight="normal" dy="6">4</tspan></text>
<text x="2916" y="1675">F<tspan font-size="16" font-weight="normal" dy="6">5</tspan></text>
<text x="2980" y="1675">F<tspan font-size="16" font-weight="normal" dy="6">6</tspan></text>
<text x="3049" y="1675">F<tspan font-size="16" font-weight="normal" dy="6">7</tspan></text>
<text x="3122" y="1675">ΔI</text>
<text x="1958" y="1812">F<tspan font-size="16" font-weight="normal" dy="8">7</tspan><tspan font-size="16" font-weight="normal" font-style="italic" dy="-22">k</tspan><tspan font-size="16" font-weight="normal">−1</tspan></text>
</g>
<g fill="none" stroke="#000" stroke-width="3">
<path d="M1893,1639 V1475 H3151 V1625" marker-end="url(#a2)"/>
<path d="M1883,1639 H1921" marker-end="url(#a2)"/>
<path d="M1957,1639 H2000" marker-end="url(#a2)"/>
<path d="M2107,1639 H2128" marker-end="url(#a2)"/>
<path d="M1988,1639 V1536 H2141 V1626" marker-end="url(#a2)"/>
<path d="M2153,1639 H2191"/>
<path d="M2174,1639 V1537 H2546 V1626" marker-end="url(#a2)"/>
<path d="M2512,1639 H2533" marker-end="url(#a2)"/>
<path d="M2558,1639 H2593" marker-end="url(#a2)"/>
<path d="M2658,1639 H2688" marker-end="url(#a2)"/>
<path d="M2752,1639 H2781" marker-end="url(#a2)"/>
<path d="M2845,1639 H2874" marker-end="url(#a2)"/>
<path d="M2909,1639 H2936" marker-end="url(#a2)"/>
<path d="M2972,1639 H3003" marker-end="url(#a2)"/>
<path d="M3040,1639 H3076" marker-end="url(#a2)"/>
<path d="M3112,1639 H3138" marker-end="url(#a2)"/>
<path d="M3163,1639 H3189" marker-end="url(#a2)"/>
</g>
<g fill="#fff" stroke="#000" stroke-width="2.5">
<circle cx="2141" cy="1639" r="12"/><circle cx="2546" cy="1639" r="12"/><circle cx="3151" cy="1639" r="12"/>
</g>
<path d="M2129,1639 H2153 M2141,1627 V1651 M2534,1639 H2558 M2546,1627 V1651 M3139,1639 H3163 M3151,1627 V1651" stroke="#000" stroke-width="2"/>
<g fill="none" stroke="#5b4b8a" stroke-width="2.5">
<path d="M2367,1515 V1489 H3023 V1511" marker-end="url(#ap)"/>
<path d="M2642,1565 V1537 H2959 V1563" marker-end="url(#ap)"/>
<path d="M2735,1603 V1572 H2894 V1601" marker-end="url(#ap)"/>
</g>
<g fill="none" stroke="#888" stroke-width="2">
<path d="M1988,1659 H2000" marker-end="url(#ag)"/>
<path d="M1988,1659 V1786 H2794"/>
<path d="M2606,1786 V1714" marker-end="url(#ag)"/>
<path d="M2701,1786 V1676" marker-end="url(#ag)"/>
<path d="M2794,1786 V1657" marker-end="url(#ag)"/>
<path d="M2357,1786 V1821"/>
<path d="M2828,1655 V1786 H3023 V1764"/>
<path d="M2892,1674 V1786"/>
<path d="M2959,1712 V1819" marker-end="url(#ag)"/>
</g>
<rect x="1896" y="1821" width="523" height="46" fill="#fff" stroke="#999" stroke-width="2"/>
<rect x="2763" y="1821" width="388" height="45" fill="#fff" stroke="#999" stroke-width="2"/>
<text x="1902" y="1854" font-size="24" class="s" textLength="510" lengthAdjust="spacingAndGlyphs">(<tspan font-style="italic">k</tspan>-1)-th iteration memories: <tspan font-weight="bold">F</tspan><tspan font-size="15" dy="5">4</tspan><tspan font-size="15" font-style="italic" dy="-16">k</tspan><tspan font-size="15">−1</tspan><tspan dy="11">,</tspan><tspan font-weight="bold">F</tspan><tspan font-size="15" dy="5">5</tspan><tspan font-size="15" font-style="italic" dy="-16">k</tspan><tspan font-size="15">−1</tspan><tspan dy="11">,</tspan><tspan font-weight="bold">F</tspan><tspan font-size="15" dy="5">6</tspan><tspan font-size="15" font-style="italic" dy="-16">k</tspan><tspan font-size="15">−1</tspan><tspan dy="11">,</tspan><tspan font-weight="bold">F</tspan><tspan font-size="15" dy="5">7</tspan><tspan font-size="15" font-style="italic" dy="-16">k</tspan><tspan font-size="15">−1</tspan></text>
<text x="2768" y="1854" font-size="24" class="s" textLength="375" lengthAdjust="spacingAndGlyphs"><tspan font-style="italic">k</tspan>-th iteration memories: <tspan font-weight="bold">F</tspan><tspan font-size="15" dy="5">4</tspan><tspan font-size="15" font-style="italic" dy="-16">k</tspan><tspan dy="11">,</tspan><tspan font-weight="bold">F</tspan><tspan font-size="15" dy="5">5</tspan><tspan font-size="15" font-style="italic" dy="-16">k</tspan><tspan dy="11">,</tspan><tspan font-weight="bold">F</tspan><tspan font-size="15" dy="5">6</tspan><tspan font-size="15" font-style="italic" dy="-16">k</tspan><tspan dy="11">,</tspan><tspan font-weight="bold">F</tspan><tspan font-size="15" dy="5">7</tspan><tspan font-size="15" font-style="italic" dy="-16">k</tspan></text>

<!-- (b) SwinT -->
<text x="1781" y="1908" font-size="26" class="s">(b)</text>
<g fill="#fff" stroke="#000" stroke-width="3">
<rect x="1795" y="2025" width="134" height="37"/><rect x="1795" y="2095" width="134" height="36"/><rect x="1795" y="2235" width="134" height="36"/><rect x="1795" y="2304" width="134" height="37"/>
<rect x="2229" y="1999" width="74" height="37"/><rect x="2102" y="2102" width="106" height="36"/>
<rect x="2065" y="2253" width="75" height="35"/><rect x="2174" y="2253" width="74" height="35"/><rect x="2283" y="2253" width="74" height="35"/>
</g>
<g class="s" font-size="24" text-anchor="middle">
<text x="1862" y="2052">FFN</text><text x="1862" y="2121">Norm</text><text x="1862" y="2261">SwinSA</text><text x="1862" y="2331">Norm</text>
<text x="2266" y="2026" font-weight="bold">W</text><text x="2155" y="2128">Softmax</text>
<text x="2102" y="2278" font-weight="bold">W<tspan font-size="15" font-style="italic" font-weight="normal" dy="5">q</tspan></text>
<text x="2211" y="2278" font-weight="bold">W<tspan font-size="15" font-style="italic" font-weight="normal" dy="5">k</tspan></text>
<text x="2320" y="2278" font-weight="bold">W<tspan font-size="15" font-style="italic" font-weight="normal" dy="5">v</tspan></text>
</g>
<g fill="none" stroke="#000" stroke-width="2.5">
<path d="M1862,1969 V1931" marker-end="url(#a2)"/>
<path d="M1862,2025 V1995" marker-end="url(#a2)"/>
<path d="M1862,2095 V2064" marker-end="url(#a2)"/>
<path d="M1862,2178 V2133" marker-end="url(#a2)"/>
<path d="M1862,2156 H1768 V1981 H1848" marker-end="url(#a2)"/>
<path d="M1862,2235 V2204" marker-end="url(#a2)"/>
<path d="M1862,2304 V2273" marker-end="url(#a2)"/>
<path d="M1862,2390 V2343" marker-end="url(#a2)"/>
<path d="M1862,2364 H1768 V2190 H1848" marker-end="url(#a2)"/>
<path d="M2266,1999 V1970" marker-end="url(#a2)"/>
<path d="M2264,2068 V2038" marker-end="url(#a2)"/>
<path d="M2155,2102 V2080 H2250" marker-end="url(#a2)"/>
<path d="M2320,2253 V2080 H2278" marker-end="url(#a2)"/>
<path d="M2153,2184 V2140" marker-end="url(#a2)"/>
<path d="M2102,2253 V2196 H2139" marker-end="url(#a2)"/>
<path d="M2211,2253 V2196 H2167" marker-end="url(#a2)"/>
<path d="M2102,2340 V2290" marker-end="url(#a2)"/>
<path d="M2253,2340 V2310 H2211 V2290" marker-end="url(#a2)"/>
<path d="M2253,2310 H2320 V2290" marker-end="url(#a2)"/>
</g>
<g fill="#fff" stroke="#000" stroke-width="2.5">
<circle cx="1862" cy="1981" r="12"/><circle cx="1862" cy="2190" r="12"/><circle cx="2264" cy="2080" r="12"/><circle cx="2153" cy="2196" r="12"/>
</g>
<path d="M1850,1981 H1874 M1862,1969 V1993 M1850,2190 H1874 M1862,2178 V2202 M2256,2072 L2272,2088 M2272,2072 L2256,2088 M2145,2188 L2161,2204 M2161,2188 L2145,2204" stroke="#000" stroke-width="2"/>
<text x="1815" y="2428" font-size="26" class="s">SwinT</text>
<path d="M1947,2250 H1978 V2242 L1994,2256 L1978,2270 V2262 H1947 Z" fill="#000"/>
<rect x="2014" y="1927" width="392" height="510" rx="20" fill="none" stroke="#000" stroke-width="3" stroke-dasharray="14 8"/>
<text x="2253" y="1957" font-size="26" class="s" font-weight="bold">F<tspan font-size="17" font-style="italic" font-weight="normal" dy="6">out</tspan></text>
<text x="2062" y="2165" font-size="22" fill="#999" class="s">RPE</text>
<path d="M2108,2158 H2146" stroke="#999" stroke-width="2" stroke-dasharray="4 3" marker-end="url(#ag)"/>
<g class="s" font-size="26" font-weight="bold"><text x="2110" y="2238">Q</text><text x="2218" y="2238">K</text><text x="2328" y="2238">V</text></g>
<text x="2092" y="2360" font-size="24" class="s" font-weight="bold">F<tspan font-size="15" font-style="italic" font-weight="normal" dy="6">q</tspan></text>
<text x="2244" y="2360" font-size="24" class="s" font-weight="bold">F<tspan font-size="15" font-style="italic" font-weight="normal" dy="6">kv</tspan></text>
<rect x="2056" y="2366" width="302" height="64" fill="#fbf9ee" stroke="#a79c5a" stroke-width="2"/>
<text x="2061" y="2393" font-size="21" class="s" textLength="290" lengthAdjust="spacingAndGlyphs">SwinSA: <tspan font-weight="bold">F</tspan><tspan font-size="13" font-style="italic" dy="5">q</tspan><tspan dy="-5"> = </tspan><tspan font-weight="bold">F</tspan><tspan font-size="13" font-style="italic" dy="5">kv</tspan><tspan dy="-5"> ∈ ℝ</tspan><tspan font-size="14" font-style="italic" dy="-10">p²×d</tspan></text>
<text x="2061" y="2422" font-size="21" class="s" textLength="290" lengthAdjust="spacingAndGlyphs">ChanCA: <tspan font-weight="bold">F</tspan><tspan font-size="13" font-style="italic" dy="5">q</tspan><tspan dy="-5"> ≠ </tspan><tspan font-weight="bold">F</tspan><tspan font-size="13" font-style="italic" dy="5">kv</tspan><tspan dy="-5"> ∈ ℝ</tspan><tspan font-size="14" font-style="italic" dy="-10">d×HW</tspan></text>

<!-- (c) GD-CNN -->
<text x="2494" y="1912" font-size="26" class="s">(c)</text>
<g fill="#fff" stroke="#000" stroke-width="3">
<polygon points="2525,2016 2618,2016 2630,2051 2513,2051"/>
<rect x="2535" y="2125" width="73" height="36"/>
<rect x="2511" y="2185" width="119" height="36"/><rect x="2656" y="2185" width="120" height="36"/>
<polygon points="2511,2243 2630,2243 2618,2279 2523,2279"/><polygon points="2656,2243 2776,2243 2764,2279 2668,2279"/>
<rect x="2535" y="2312" width="73" height="36"/>
<rect x="2905" y="2222" width="113" height="37"/><rect x="2905" y="2308" width="113" height="37"/>
</g>
<rect x="2969" y="2065" width="181" height="63" fill="#fff" stroke="#000" stroke-width="2" stroke-dasharray="2 2"/>
<rect x="3085" y="2221" width="184" height="64" fill="#fff" stroke="#000" stroke-width="2" stroke-dasharray="2 2"/>
<g class="s" font-size="24" text-anchor="middle">
<text x="2572" y="2043">1×1 Conv</text><text x="2572" y="2151">GELU</text><text x="2571" y="2211">3×3 Conv</text><text x="2716" y="2211">AdaConv</text>
<text x="2571" y="2269">1×1 Conv</text><text x="2716" y="2269">1×1 Conv</text><text x="2572" y="2338">Norm</text>
<text x="2962" y="2249">3×3 Conv</text><text x="2962" y="2335">1×1Conv</text>
<text x="3059" y="2090">Adaptive kernel</text><text x="3059" y="2118" font-style="italic">HW ×C×3²</text>
<text x="3177" y="2247">Learned kernel</text><text x="3177" y="2274" font-style="italic">n×C×3²</text>
</g>
<g fill="none" stroke="#000" stroke-width="2.5">
<path d="M2572,1964 V1930" marker-end="url(#a2)"/>
<path d="M2572,2016 V1990" marker-end="url(#a2)"/>
<path d="M2572,2076 V2053" marker-end="url(#a2)"/>
<path d="M2572,2125 V2102" marker-end="url(#a2)"/>
<path d="M2716,2185 V2088 H2586" marker-end="url(#a2)"/>
<path d="M2572,2185 V2163" marker-end="url(#a2)"/>
<path d="M2572,2243 V2223" marker-end="url(#a2)"/>
<path d="M2716,2243 V2223" marker-end="url(#a2)"/>
<path d="M2572,2312 V2281" marker-end="url(#a2)"/>
<path d="M2572,2300 H2716 V2281" marker-end="url(#a2)"/>
<path d="M2572,2388 V2350" marker-end="url(#a2)"/>
<path d="M2572,2366 H2487 V1976 H2558" marker-end="url(#a2)"/>
<path d="M3059,2007 V1970" marker-end="url(#a2)"/>
<path d="M3059,2065 V2033" marker-end="url(#a2)"/>
<path d="M3059,2160 V2130" marker-end="url(#a2)"/>
<path d="M2962,2222 V2172 H3045" marker-end="url(#a2)"/>
<path d="M3177,2221 V2172 H3073" marker-end="url(#a2)"/>
<path d="M2962,2308 V2261" marker-end="url(#a2)"/>
<path d="M2962,2400 V2347" marker-end="url(#a2)"/>
<path d="M2962,2370 H2878 V2019 H3045" marker-end="url(#a2)"/>
</g>
<g fill="#fff" stroke="#000" stroke-width="2.5">
<circle cx="2572" cy="1976" r="12"/><circle cx="2572" cy="2088" r="12"/><circle cx="3059" cy="2019" r="12"/><circle cx="3059" cy="2172" r="12"/>
</g>
<path d="M2560,1976 H2584 M2572,1964 V1988 M3051,2164 L3067,2180 M3067,2164 L3051,2180 M3051,2019 H3067 M3059,2011 V2027 M3053,2013 L3065,2025 M3065,2013 L3053,2025" stroke="#000" stroke-width="2"/>
<circle cx="2572" cy="2088" r="2.5" fill="#000"/>
<text x="2541" y="2430" font-size="26" class="s">GD-CNN</text>
<path d="M2792,2197 H2823 V2189 L2840,2203 L2823,2217 V2209 H2792 Z" fill="#000"/>
<rect x="2854" y="1927" width="436" height="509" rx="20" fill="none" stroke="#000" stroke-width="3" stroke-dasharray="14 8"/>
<text x="3042" y="1955" font-size="26" class="s" font-weight="bold">F<tspan font-size="17" font-style="italic" font-weight="normal" dy="6">out</tspan></text>
<g class="s" font-size="21" font-style="italic">
<text x="3076" y="1990">H×W×C</text><text x="2969" y="2196">HW ×n</text><text x="2969" y="2300">H×W×n</text><text x="2969" y="2392">H×W×C</text>
</g>
<text x="2898" y="2213" font-size="15" class="s">Reshape</text>
<text x="2902" y="2280" font-size="15" class="s">ReLU</text>
<text x="2950" y="2420" font-size="24" class="s" font-weight="bold">F<tspan font-size="15" font-style="italic" font-weight="normal" dy="6">in</tspan></text>

<!-- ================= RESULT ================= -->
<rect x="3408" y="478" width="21" height="22" rx="3" fill="#f39200"/>
<text x="3446" y="503" font-size="42" textLength="1238" lengthAdjust="spacingAndGlyphs"><tspan font-weight="bold">Comprehensive Performance</tspan> (colored methods are CR-arbitrary)</text>
<rect x="3599" y="528" width="238" height="394" fill="#fdf6e8"/>
<rect x="4490" y="528" width="418" height="394" fill="#fdf6e8"/>
<g stroke="#000" stroke-width="3"><line x1="3431" y1="526" x2="4908" y2="526"/><line x1="3431" y1="636" x2="4908" y2="636"/><line x1="3431" y1="923" x2="4908" y2="923"/></g>
<g font-size="34" text-anchor="middle">
<text x="3512" y="594">Method</text>
<text x="3717" y="568">PnP-DRUNet</text><text x="3717" y="617">[66]</text>
<text x="3919" y="568">CPP-Net</text><text x="3919" y="617">[18]</text>
<text x="4081" y="568">COAST</text><text x="4081" y="617">[57]</text>
<text x="4245" y="568">SAUNet</text><text x="4245" y="617">[47]</text>
<text x="4407" y="568">HATNet</text><text x="4407" y="617">[35]</text>
<text x="4594" y="568">HQS-</text><text x="4594" y="617">ProxUnroll</text>
<text x="4803" y="568">ADMM-</text><text x="4803" y="617">ProxUnroll</text>
<text x="3512" y="702">MACs</text>
<text x="3717" y="678">7175.10</text><text x="3717" y="726">(143.5×50)</text>
<text x="3919" y="702">153.47</text><text x="4081" y="702">311.53</text><text x="4245" y="702">143.05</text><text x="4407" y="702">494.42</text>
<text x="4594" y="678" font-weight="bold">107.73</text><text x="4594" y="726">(17.95×6)</text>
<text x="4803" y="678" font-weight="bold">107.73</text><text x="4803" y="726">(17.95×6)</text>
<text x="3512" y="786">Params</text><text x="3717" y="786">32.64</text><text x="3919" y="786">12.31</text><text x="4081" y="786">1.13</text><text x="4245" y="786">10.53</text><text x="4407" y="786">31.28</text><text x="4594" y="786" font-weight="bold">3.90</text><text x="4803" y="786" font-weight="bold">3.90</text>
<text x="3512" y="846">Runtime</text><text x="3717" y="846">0.65</text><text x="3919" y="846">0.41</text><text x="4081" y="846" font-weight="bold">0.23</text><text x="4245" y="846">0.35</text><text x="4407" y="846">0.60</text><text x="4594" y="846">0.27</text><text x="4803" y="846">0.27</text>
<text x="3512" y="905">PSNR</text><text x="3717" y="905">30.16</text><text x="3919" y="905">31.27</text><text x="4081" y="905">28.69</text><text x="4245" y="905">32.15</text><text x="4407" y="905">32.26</text><text x="4594" y="905">32.51</text><text x="4803" y="905" font-weight="bold">32.55</text>
</g>

<rect x="3405" y="956" width="22" height="23" rx="3" fill="#f39200"/>
<text x="3443" y="982" font-size="42" textLength="564" lengthAdjust="spacingAndGlyphs"><tspan font-weight="bold">Simulated Results</tspan> (CR = 0.04)</text>
<svg x="3414" y="1005" width="295" height="300">
<rect width="295" height="300" fill="#767676"/>
<rect width="295" height="300" fill="url(#strp)" opacity="0.35"/>
<path d="M100,40 Q160,0 230,40 L280,300 L40,300 Q60,150 100,40Z" fill="url(#strp)"/>
<ellipse cx="150" cy="140" rx="55" ry="80" fill="#a4a4a4"/>
<path d="M95,60 Q150,10 215,60 L205,95 Q150,55 115,110Z" fill="#555"/>
<ellipse cx="240" cy="210" rx="28" ry="60" fill="#b2b2b2"/>
<rect x="200" y="8" width="72" height="71" fill="none" stroke="#e02020" stroke-width="3"/>
<rect x="70" y="148" width="74" height="76" fill="none" stroke="#2050c0" stroke-width="3"/>
</svg>
<g>
<use href="#crT" x="3714" y="1005"/><use href="#crT" x="3865" y="1005"/><use href="#crT" x="4017" y="1005"/><use href="#crT" x="4168" y="1005"/><use href="#crT" x="4319" y="1005"/><use href="#crT" x="4470" y="1005"/><use href="#crT" x="4621" y="1005"/><use href="#crT" x="4772" y="1005"/>
<use href="#crB" x="3714" y="1155"/><use href="#crB" x="3865" y="1155"/><use href="#crB" x="4017" y="1155"/><use href="#crB" x="4168" y="1155"/><use href="#crB" x="4319" y="1155"/><use href="#crB" x="4470" y="1155"/><use href="#crB" x="4621" y="1155"/><use href="#crB" x="4772" y="1155"/>
</g>
<g class="s" font-size="24">
<text x="3497" y="1331" textLength="133" lengthAdjust="spacingAndGlyphs">Ground Truth</text>
<text x="3719" y="1331" textLength="134" lengthAdjust="spacingAndGlyphs">PnP-DRUNet</text>
<text x="3895" y="1331" textLength="87" lengthAdjust="spacingAndGlyphs">OCTUF<tspan font-size="15" dy="-10">+</tspan></text>
<text x="4047" y="1331" textLength="95" lengthAdjust="spacingAndGlyphs">DGUNet<tspan font-size="15" dy="-10">+</tspan></text>
<text x="4200" y="1331" textLength="87" lengthAdjust="spacingAndGlyphs">CPP-Net</text>
<text x="4352" y="1331" textLength="83" lengthAdjust="spacingAndGlyphs">SAUNet</text>
<text x="4502" y="1331" textLength="83" lengthAdjust="spacingAndGlyphs">HATNet</text>
<text x="4613" y="1331" textLength="164" lengthAdjust="spacingAndGlyphs">HQS-ProxUnroll</text>
<text x="4793" y="1331" textLength="97" lengthAdjust="spacingAndGlyphs">Reference</text>
<text x="3502" y="1362" textLength="122" lengthAdjust="spacingAndGlyphs">PSNR/SSIM</text>
<text x="3721" y="1362" textLength="125" lengthAdjust="spacingAndGlyphs">24.07/0.7243</text>
<text x="3871" y="1362" textLength="125" lengthAdjust="spacingAndGlyphs">25.13/0.7779</text>
<text x="4024" y="1362" textLength="125" lengthAdjust="spacingAndGlyphs">26.13/0.8145</text>
<text x="4175" y="1362" textLength="125" lengthAdjust="spacingAndGlyphs">27.35/0.8396</text>
<text x="4327" y="1362" textLength="125" lengthAdjust="spacingAndGlyphs">27.65/0.8467</text>
<text x="4478" y="1362" textLength="125" lengthAdjust="spacingAndGlyphs">28.17/0.8673</text>
<text x="4628" y="1362" textLength="125" lengthAdjust="spacingAndGlyphs">29.54/0.8931</text>
</g>

<rect x="3405" y="1398" width="22" height="23" rx="3" fill="#f39200"/>
<text x="3443" y="1422" font-size="42" textLength="442" lengthAdjust="spacingAndGlyphs"><tspan font-weight="bold">Real Results</tspan> (CR = 0.15)</text>
<use href="#usaf" x="3421" y="1453"/><use href="#usaf" x="3637" y="1453"/><use href="#usaf" x="3851" y="1453"/><use href="#usaf" x="4066" y="1453"/><use href="#usaf" x="4280" y="1453"/><use href="#usaf" x="4495" y="1453"/><use href="#usaf" x="4709" y="1453"/>
<g class="s" font-size="27" text-anchor="middle">
<text x="3526" y="1694">Input</text><text x="3740" y="1694">PnP-DRUNet</text><text x="3958" y="1694">SAUNet</text><text x="4169" y="1694">HATNet</text><text x="4383" y="1694">HQS-ProxUnroll</text><text x="4599" y="1694">ADMM-ProxUnroll</text><text x="4810" y="1694">Reference</text>
</g>

<rect x="3407" y="1729" width="21" height="23" rx="3" fill="#f39200"/>
<text x="3446" y="1754" font-size="42" font-weight="bold" textLength="210" lengthAdjust="spacingAndGlyphs">Conclusion</text>
<text x="3404" y="1812" font-size="40">•</text>
<text x="3451" y="1812" font-size="42" textLength="1480" lengthAdjust="spacingAndGlyphs">ProxUnroll  achieves  SOTA  with  high  efficiency,  high  flexibility,  and  fast</text>
<text x="3451" y="1858" font-size="42" textLength="250" lengthAdjust="spacingAndGlyphs">convergence.</text>

<!-- scatter -->
<svg x="3643" y="1887" width="559" height="494">
<polygon points="0,0 196,0 0,180" fill="#fdf6e6"/>
<polygon points="267,494 559,190 559,494" fill="#fdf6e6"/>
<g stroke="#d8d8d8" stroke-width="1" stroke-dasharray="3 3">
<line x1="0" y1="71" x2="559" y2="71"/><line x1="0" y1="141" x2="559" y2="141"/><line x1="0" y1="212" x2="559" y2="212"/><line x1="0" y1="281" x2="559" y2="281"/><line x1="0" y1="353" x2="559" y2="353"/><line x1="0" y1="423" x2="559" y2="423"/>
<line x1="30" y1="0" x2="30" y2="494"/><line x1="111" y1="0" x2="111" y2="494"/><line x1="158" y1="0" x2="158" y2="494"/><line x1="192" y1="0" x2="192" y2="494"/><line x1="218" y1="0" x2="218" y2="494"/><line x1="239" y1="0" x2="239" y2="494"/><line x1="257" y1="0" x2="257" y2="494"/><line x1="273" y1="0" x2="273" y2="494"/><line x1="287" y1="0" x2="287" y2="494"/><line x1="299" y1="0" x2="299" y2="494"/><line x1="380" y1="0" x2="380" y2="494"/><line x1="427" y1="0" x2="427" y2="494"/><line x1="461" y1="0" x2="461" y2="494"/><line x1="487" y1="0" x2="487" y2="494"/><line x1="508" y1="0" x2="508" y2="494"/><line x1="526" y1="0" x2="526" y2="494"/><line x1="542" y1="0" x2="542" y2="494"/>
</g>
<ellipse cx="216" cy="141" rx="84" ry="78" fill="#f7c6d9"/>
<ellipse cx="526" cy="363" rx="86" ry="80" fill="#c6e4e1"/>
<ellipse cx="39" cy="107" rx="12" ry="11" fill="#ef6b6b"/>
<ellipse cx="71" cy="159" rx="28" ry="27" fill="#8fd3ee"/>
<ellipse cx="81" cy="246" rx="34" ry="32" fill="#eda090"/>
<circle cx="31" cy="280" r="6" fill="#3cb9c0"/>
<circle cx="369" cy="424" r="3" fill="#7a3a7a"/>
<rect x="320" y="9" width="229" height="165" fill="#fff" stroke="#000" stroke-width="2"/>
<circle cx="341" cy="91" r="14" fill="#cfcfcf"/><circle cx="396" cy="91" r="26" fill="#cfcfcf"/><circle cx="490" cy="91" r="54" fill="#cfcfcf"/>
</svg>
<rect x="3643" y="1887" width="559" height="494" fill="none" stroke="#000" stroke-width="2.5"/>
<g class="s" font-size="26">
<text x="3969" y="1922" font-size="24">5M</text><text x="4018" y="1922" font-size="24">10 M</text><text x="4113" y="1922" font-size="24">20 M</text>
<text x="4059" y="2051" text-anchor="middle" font-size="26">Model Params</text>
<text x="3864" y="1917" text-anchor="middle">HATNet</text><text x="3864" y="1944" text-anchor="middle">(CVPR'24)</text>
<text x="3650" y="1950" font-weight="bold" fill="#5a3a1a">ProxUnroll</text>
<text x="3647" y="2094" textLength="159" lengthAdjust="spacingAndGlyphs">SAUNet(MM'23)</text>
<text x="3740" y="2177">CPP-Net</text><text x="3728" y="2205">(CVPR'24)</text>
<text x="3652" y="2243">DGUNet<tspan font-size="16" dy="-10">+</tspan></text><text x="3650" y="2271">(CVPR'22)</text>
<text x="4194" y="2130" text-anchor="end">PnP-DRUNet</text><text x="4180" y="2157" text-anchor="end">(PAMI'21)</text>
<text x="3956" y="2261">PnP-DnCNN</text><text x="3964" y="2289">(ICML'19)</text>
</g>
<g class="s" font-size="28" text-anchor="end">
<text x="3632" y="1899">31</text><text x="3632" y="1967">30.5</text><text x="3632" y="2037">30</text><text x="3632" y="2108">29.5</text><text x="3632" y="2177">29</text><text x="3632" y="2249">28.5</text><text x="3632" y="2319">28</text><text x="3632" y="2389">27.5</text>
</g>
<g stroke="#000" stroke-width="2">
<path d="M3635,1890 H3643 M3635,1958 H3643 M3635,2028 H3643 M3635,2099 H3643 M3635,2168 H3643 M3635,2240 H3643 M3635,2310 H3643 M3635,2380 H3643"/>
<path d="M3673,2381 V2393 M3942,2381 V2393 M3661,2381 V2388 M3647,2381 V2388 M3754,2381 V2388 M3801,2381 V2388 M3835,2381 V2388 M3861,2381 V2388 M3882,2381 V2388 M3900,2381 V2388 M3916,2381 V2388 M3930,2381 V2388 M4023,2381 V2388 M4070,2381 V2388 M4104,2381 V2388 M4130,2381 V2388 M4151,2381 V2388 M4169,2381 V2388 M4185,2381 V2388 M4199,2381 V2388"/>
</g>
<g class="s" font-size="28" text-anchor="middle"><text x="3673" y="2414">100</text><text x="3942" y="2414">1000</text><text x="3900" y="2448">MACs (G)</text></g>
<text transform="translate(3580,2131) rotate(-90)" class="s" font-size="30" text-anchor="middle">PSNR (dB)</text>

<!-- contour panels -->
<svg x="4219" y="1883" width="273" height="252"><rect width="273" height="252" fill="#ebf0fa"/><use href="#ctr" x="53" y="127"/>
<path d="M53,127 L247,75" stroke="#4a9a3a" stroke-width="2" stroke-dasharray="5 3"/>
<g fill="#5aa848"><circle cx="65" cy="124" r="5"/><circle cx="75" cy="121" r="5"/><circle cx="85" cy="119" r="5"/><circle cx="95" cy="116" r="5"/><circle cx="107" cy="113" r="5"/><circle cx="120" cy="109" r="5"/><circle cx="135" cy="105" r="5"/><circle cx="150" cy="101" r="5"/><circle cx="168" cy="96" r="5"/><circle cx="186" cy="91" r="5"/><circle cx="206" cy="86" r="5"/><circle cx="226" cy="80" r="5"/></g>
<circle cx="247" cy="75" r="5" fill="#f0b030"/><circle cx="53" cy="127" r="5" fill="#e02020"/>
<g class="s" font-size="22" fill="#444"><text x="104" y="168">10</text><text x="138" y="187">15</text><text x="176" y="208">20</text><text x="216" y="231">25</text></g>
<rect width="273" height="252" fill="none" stroke="#bbb" stroke-width="3"/></svg>
<svg x="4504" y="1883" width="274" height="252"><rect width="274" height="252" fill="#ebf0fa"/><use href="#ctr" x="54" y="127"/>
<path d="M54,127 L70,126 L82,115 L84,126 L98,100 L100,126 L116,97 L118,132 L136,132 L139,84 L153,57 L170,119 L185,119 L182,56 L248,75" stroke="#4a9a3a" stroke-width="2" stroke-dasharray="5 3" fill="none"/>
<g fill="#5aa848"><circle cx="70" cy="126" r="5"/><circle cx="82" cy="115" r="5"/><circle cx="84" cy="126" r="5"/><circle cx="98" cy="100" r="5"/><circle cx="100" cy="126" r="5"/><circle cx="116" cy="97" r="5"/><circle cx="118" cy="132" r="5"/><circle cx="136" cy="132" r="5"/><circle cx="139" cy="84" r="5"/><circle cx="153" cy="57" r="5"/><circle cx="170" cy="119" r="5"/><circle cx="185" cy="119" r="5"/><circle cx="182" cy="56" r="5"/></g>
<circle cx="248" cy="75" r="5" fill="#f0b030"/><circle cx="54" cy="127" r="5" fill="#e02020"/>
<g class="s" font-size="22" fill="#444"><text x="104" y="168">10</text><text x="138" y="187">15</text><text x="176" y="210">20</text><text x="216" y="232">25</text></g>
<rect width="274" height="252" fill="none" stroke="#bbb" stroke-width="3"/></svg>
<svg x="4219" y="2170" width="273" height="253"><rect width="273" height="253" fill="#ebf0fa"/><use href="#ctr" x="53" y="128"/>
<path d="M145,104 L36,43 L247,34 L181,139 L204,234 L18,169 L36,113 L53,128" stroke="#4a9a3a" stroke-width="2" stroke-dasharray="5 3" fill="none"/>
<g fill="#5aa848"><circle cx="36" cy="43" r="5"/><circle cx="247" cy="34" r="5"/><circle cx="181" cy="139" r="5"/><circle cx="204" cy="234" r="5"/><circle cx="18" cy="169" r="5"/><circle cx="36" cy="113" r="5"/></g>
<circle cx="145" cy="104" r="5" fill="#f0b030"/><circle cx="53" cy="128" r="5" fill="#e02020"/>
<g class="s" font-size="22" fill="#444"><text x="104" y="170">20</text><text x="138" y="190">30</text><text x="176" y="212">40</text><text x="216" y="233">50</text></g>
<rect width="273" height="253" fill="none" stroke="#bbb" stroke-width="3"/></svg>
<svg x="4504" y="2170" width="274" height="253"><rect width="274" height="253" fill="#ebf0fa"/><use href="#ctr" x="54" y="128"/>
<path d="M54,128 L70,124 L85,125 L116,120 L154,116 L184,89 L248,76" stroke="#4a9a3a" stroke-width="2" stroke-dasharray="5 3" fill="none"/>
<g fill="#5aa848"><circle cx="70" cy="124" r="5"/><circle cx="85" cy="125" r="5"/><circle cx="116" cy="120" r="5"/><circle cx="154" cy="116" r="5"/><circle cx="184" cy="89" r="5"/></g>
<circle cx="248" cy="76" r="5" fill="#f0b030"/><circle cx="54" cy="128" r="5" fill="#e02020"/>
<g class="s" font-size="22" fill="#444"><text x="104" y="170">10</text><text x="140" y="189">15</text><text x="178" y="211">20</text><text x="220" y="232">25</text></g>
<rect width="274" height="253" fill="none" stroke="#bbb" stroke-width="3"/></svg>
<g class="s" font-size="30" text-anchor="middle">
<text x="4359" y="2160">Proximal Algorithm</text><text x="4636" y="2160">PnP</text>
<text x="4352" y="2450">Unrolling</text><text x="4630" y="2450">ProxUnroll</text>
</g>
</svg>
</body></html>
